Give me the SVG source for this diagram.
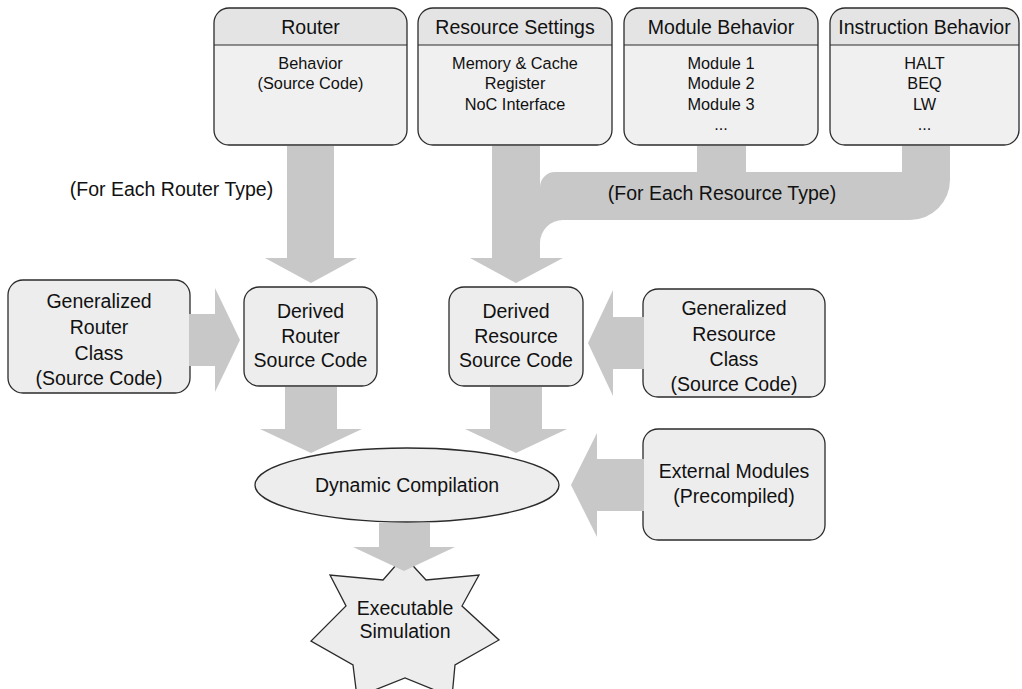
<svg xmlns="http://www.w3.org/2000/svg" width="1022" height="689" viewBox="0 0 1022 689">
  <style>
    .box { fill: #EDEDED; stroke: #2b2b2b; stroke-width: 1.3; }
    .head { fill: #E4E4E4; }
    .body { fill: #F0F0F0; }
    .frame { fill: none; stroke: #2b2b2b; stroke-width: 1.3; }
    .rule { stroke: #2b2b2b; stroke-width: 1.1; }
    .flow { fill: #C8C8C8; stroke: none; }
    text { font-family: "Liberation Sans", Arial, sans-serif; fill: #111; text-anchor: middle; }
    .big { font-size: 19.5px; }
    .small { font-size: 16.3px; }
  </style>
  <defs>
    <clipPath id="clip-router"><rect x="214" y="8" width="193" height="137" rx="15"/></clipPath>
    <clipPath id="clip-res"><rect x="418" y="8" width="194" height="137" rx="15"/></clipPath>
    <clipPath id="clip-mod"><rect x="624" y="8" width="194" height="137" rx="15"/></clipPath>
    <clipPath id="clip-ins"><rect x="830" y="8" width="189" height="137" rx="15"/></clipPath>
  </defs>

  <!-- top row: definition sources -->
  <g id="router">
    <g clip-path="url(#clip-router)">
      <rect class="body" x="214" y="8" width="193" height="137"/>
      <rect class="head" x="214" y="8" width="193" height="37"/>
    </g>
    <line class="rule" x1="214" y1="45" x2="407" y2="45"/>
    <rect class="frame" x="214" y="8" width="193" height="137" rx="15"/>
    <text class="big" x="310.5" y="34">Router</text>
    <text class="small" x="310.5" y="68.5">Behavior</text>
    <text class="small" x="310.5" y="89">(Source Code)</text>
  </g>

  <g id="resource-settings">
    <g clip-path="url(#clip-res)">
      <rect class="body" x="418" y="8" width="194" height="137"/>
      <rect class="head" x="418" y="8" width="194" height="37"/>
    </g>
    <line class="rule" x1="418" y1="45" x2="612" y2="45"/>
    <rect class="frame" x="418" y="8" width="194" height="137" rx="15"/>
    <text class="big" x="515" y="34">Resource Settings</text>
    <text class="small" x="515" y="68.5">Memory &amp; Cache</text>
    <text class="small" x="515" y="89">Register</text>
    <text class="small" x="515" y="109.5">NoC Interface</text>
  </g>

  <g id="module-behavior">
    <g clip-path="url(#clip-mod)">
      <rect class="body" x="624" y="8" width="194" height="137"/>
      <rect class="head" x="624" y="8" width="194" height="37"/>
    </g>
    <line class="rule" x1="624" y1="45" x2="818" y2="45"/>
    <rect class="frame" x="624" y="8" width="194" height="137" rx="15"/>
    <text class="big" x="721" y="34">Module Behavior</text>
    <text class="small" x="721" y="68.5">Module 1</text>
    <text class="small" x="721" y="89">Module 2</text>
    <text class="small" x="721" y="109.5">Module 3</text>
    <text class="small" x="721" y="130">...</text>
  </g>

  <g id="instruction-behavior">
    <g clip-path="url(#clip-ins)">
      <rect class="body" x="830" y="8" width="189" height="137"/>
      <rect class="head" x="830" y="8" width="189" height="37"/>
    </g>
    <line class="rule" x1="830" y1="45" x2="1019" y2="45"/>
    <rect class="frame" x="830" y="8" width="189" height="137" rx="15"/>
    <text class="big" x="924.5" y="34">Instruction Behavior</text>
    <text class="small" x="924.5" y="68.5">HALT</text>
    <text class="small" x="924.5" y="89">BEQ</text>
    <text class="small" x="924.5" y="109.5">LW</text>
    <text class="small" x="924.5" y="130">...</text>
  </g>

  <!-- middle row: class sources -->
  <g id="generalized-router">
    <rect class="box" x="8" y="280" width="182" height="113" rx="15"/>
    <text class="big" x="99" y="308">Generalized</text>
    <text class="big" x="99" y="334">Router</text>
    <text class="big" x="99" y="360">Class</text>
    <text class="big" x="99" y="385">(Source Code)</text>
  </g>

  <g id="derived-router">
    <rect class="box" x="244" y="287" width="133" height="99" rx="15"/>
    <text class="big" x="310.5" y="318">Derived</text>
    <text class="big" x="310.5" y="342.5">Router</text>
    <text class="big" x="310.5" y="367">Source Code</text>
  </g>

  <g id="derived-resource">
    <rect class="box" x="449" y="287" width="134" height="99" rx="15"/>
    <text class="big" x="516" y="318">Derived</text>
    <text class="big" x="516" y="342.5">Resource</text>
    <text class="big" x="516" y="367">Source Code</text>
  </g>

  <g id="generalized-resource">
    <rect class="box" x="643" y="289" width="182" height="108" rx="15"/>
    <text class="big" x="734" y="315">Generalized</text>
    <text class="big" x="734" y="341">Resource</text>
    <text class="big" x="734" y="366">Class</text>
    <text class="big" x="734" y="391">(Source Code)</text>
  </g>

  <g id="external-modules">
    <rect class="box" x="643" y="429" width="182" height="111" rx="15"/>
    <text class="big" x="734" y="478">External Modules</text>
    <text class="big" x="734" y="503">(Precompiled)</text>
  </g>

  <!-- bottom: compile step and result -->
  <g id="dynamic-compilation">
    <ellipse class="box" cx="407" cy="485" rx="152" ry="37"/>
    <text class="big" x="407" y="492">Dynamic Compilation</text>
  </g>

  <g id="executable-simulation">
    <polygon class="box" points="404,556 426,580 479,575 462,606 499,640 455,665 452,697 405,678 357,697 353,665 311,641 346,606 330,575 383,580"/>
    <text class="big" x="405" y="615">Executable</text>
    <text class="big" x="405" y="638">Simulation</text>
  </g>

  <!-- block arrows between stages -->
  <g id="connectors">
    <path class="flow" d="M287,146 V258 H265 L311,283 L357,258 H334 V146 Z"/>
    <path class="flow" d="M492,146 V258 H470 L516,283 L563,258 H540 V243 A23,23 0 0 1 563,220 H910 A40,40 0 0 0 950,180 V146 H902 V172 H746 V146 H697 V172 H555 A15,15 0 0 0 540,187 V146 Z"/>
    <path class="flow" d="M189,314 H215 V288 L240,340 L215,392 V366 H189 Z"/>
    <path class="flow" d="M644,317 H613 V290 L588,343 L613,396 V369 H644 Z"/>
    <path class="flow" d="M285,387 V429 H260 L311,453 L362,429 H337 V387 Z"/>
    <path class="flow" d="M490,387 V429 H465 L516,453 L567,429 H542 V387 Z"/>
    <path class="flow" d="M644,459 H597 V433 L571,485 L597,537 V511 H644 Z"/>
    <path class="flow" d="M379,523 V547 H353 L404,571 L455,547 H430 V523 Z"/>
    <text class="big" x="171.5" y="196">(For Each Router Type)</text>
    <text class="big" x="722" y="200">(For Each Resource Type)</text>
  </g>
</svg>
